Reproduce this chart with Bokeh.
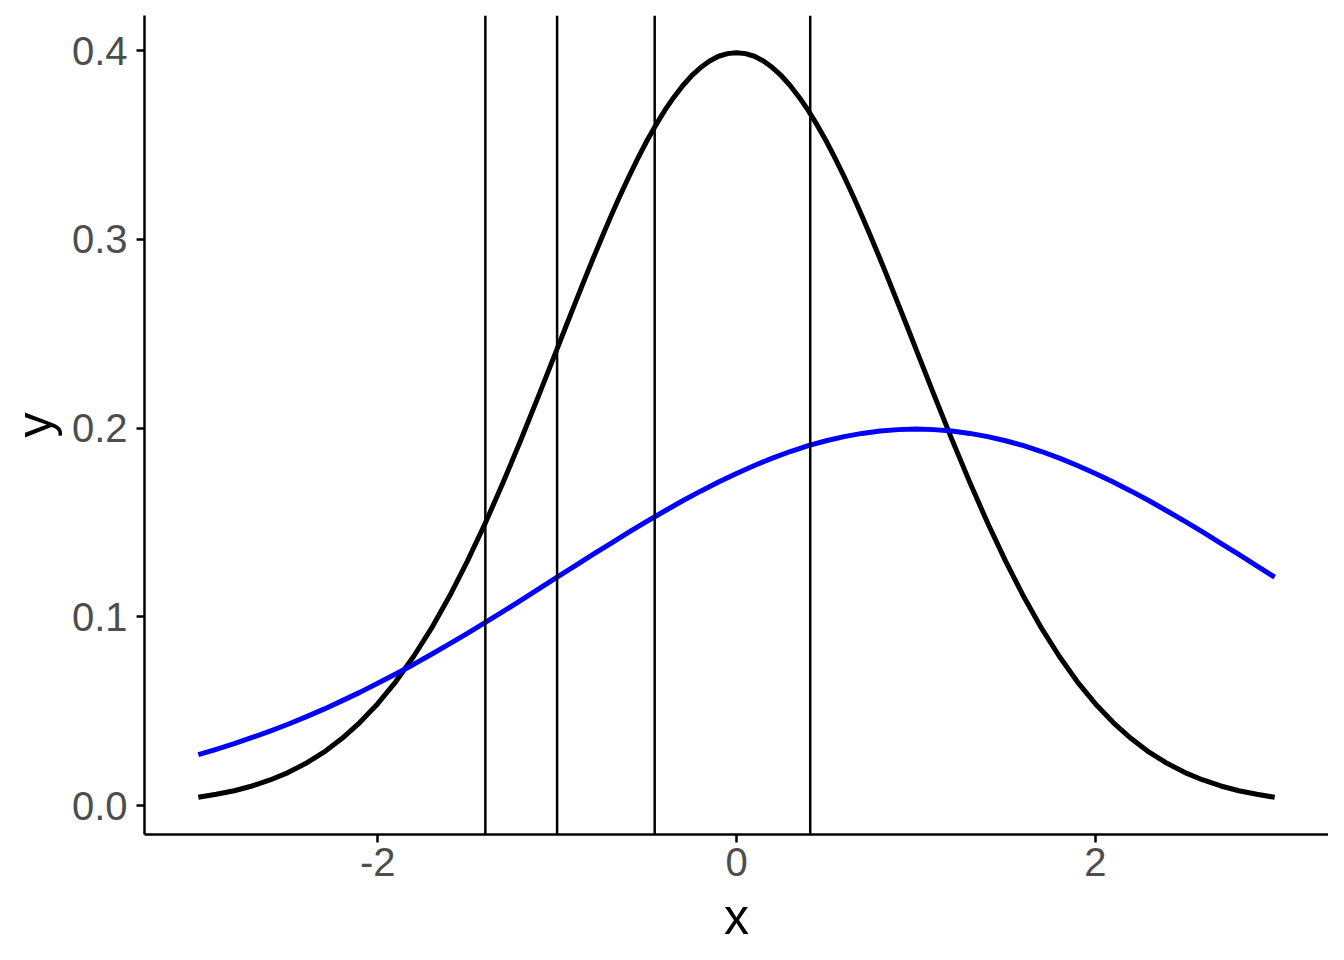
from bokeh.plotting import figure
from bokeh.models import Range1d, FixedTicker, NumeralTickFormatter, Span
from bokeh.embed import file_html
from bokeh.resources import INLINE

# black curve: x positions and values
black_x = [-3.0, -2.9, -2.8, -2.7, -2.6, -2.5, -2.4, -2.3, -2.2, -2.1,
           -2.0, -1.9, -1.8, -1.7, -1.6, -1.5, -1.4, -1.3, -1.2, -1.1,
           -1.0, -0.95, -0.9, -0.85, -0.8, -0.75, -0.7, -0.65, -0.6, -0.55,
           -0.5, -0.45, -0.4, -0.35, -0.3, -0.25, -0.2, -0.15, -0.1, -0.05,
           0.0, 0.05, 0.1, 0.15, 0.2, 0.25, 0.3, 0.35, 0.4, 0.45,
           0.5, 0.55, 0.6, 0.65, 0.7, 0.75, 0.8, 0.85, 0.9, 0.95,
           1.0, 1.1, 1.2, 1.3, 1.4, 1.5, 1.6, 1.7, 1.8, 1.9,
           2.0, 2.1, 2.2, 2.3, 2.4, 2.5, 2.6, 2.7, 2.8, 2.9, 3.0]
black_y = [0.0044, 0.0060, 0.0079, 0.0104, 0.0136, 0.0175, 0.0224, 0.0283, 0.0355, 0.0440,
           0.0540, 0.0656, 0.0790, 0.0940, 0.1109, 0.1295, 0.1497, 0.1714, 0.1942, 0.2179,
           0.2420, 0.2541, 0.2661, 0.2780, 0.2897, 0.3011, 0.3123, 0.3230, 0.3332, 0.3429,
           0.3521, 0.3605, 0.3683, 0.3752, 0.3814, 0.3867, 0.3910, 0.3945, 0.3970, 0.3984,
           0.3989, 0.3984, 0.3970, 0.3945, 0.3910, 0.3867, 0.3814, 0.3752, 0.3683, 0.3605,
           0.3521, 0.3429, 0.3332, 0.3230, 0.3123, 0.3011, 0.2897, 0.2780, 0.2661, 0.2541,
           0.2420, 0.2179, 0.1942, 0.1714, 0.1497, 0.1295, 0.1109, 0.0940, 0.0790, 0.0656,
           0.0540, 0.0440, 0.0355, 0.0283, 0.0224, 0.0175, 0.0136, 0.0104, 0.0079, 0.0060, 0.0044]

# blue curve: x positions and values
blue_x = [-3.0, -2.9, -2.8, -2.7, -2.6, -2.5, -2.4, -2.3, -2.2, -2.1,
          -2.0, -1.9, -1.8, -1.7, -1.6, -1.5, -1.4, -1.3, -1.2, -1.1,
          -1.0, -0.9, -0.8, -0.7, -0.6, -0.5, -0.4, -0.3, -0.2, -0.1,
          0.0, 0.1, 0.2, 0.3, 0.4, 0.5, 0.6, 0.7, 0.8, 0.9,
          1.0, 1.1, 1.2, 1.3, 1.4, 1.5, 1.6, 1.7, 1.8, 1.9,
          2.0, 2.1, 2.2, 2.3, 2.4, 2.5, 2.6, 2.7, 2.8, 2.9, 3.0]
blue_y = [0.0270, 0.0298, 0.0328, 0.0361, 0.0395, 0.0431, 0.0470, 0.0511, 0.0555, 0.0600,
          0.0648, 0.0697, 0.0748, 0.0802, 0.0857, 0.0913, 0.0971, 0.1029, 0.1089, 0.1150,
          0.1210, 0.1270, 0.1331, 0.1390, 0.1449, 0.1506, 0.1561, 0.1615, 0.1666, 0.1714,
          0.1760, 0.1802, 0.1841, 0.1876, 0.1907, 0.1933, 0.1955, 0.1972, 0.1985, 0.1992,
          0.1995, 0.1992, 0.1985, 0.1972, 0.1955, 0.1933, 0.1907, 0.1876, 0.1841, 0.1802,
          0.1760, 0.1714, 0.1666, 0.1615, 0.1561, 0.1506, 0.1449, 0.1390, 0.1331, 0.1270, 0.1210]

# vertical reference lines
vlines = [-1.40, -1.00, -0.456, 0.411]

x_ticks = [-2, 0, 2]
y_ticks = [0.0, 0.1, 0.2, 0.3, 0.4]

FONT = "Liberation Sans"

p = figure(frame_width=1184, frame_height=819,
           min_border_left=144, min_border_top=15, min_border_right=0, min_border_bottom=110,
           x_range=Range1d(-3.3, 3.3), y_range=Range1d(-0.0153, 0.4186),
           output_backend="svg", toolbar_location=None,
           x_axis_label="x", y_axis_label="y")

p.outline_line_color = None
p.xgrid.visible = False
p.ygrid.visible = False
p.background_fill_color = "white"
p.border_fill_color = "white"

for sx in vlines:
    p.add_layout(Span(location=sx, dimension="height", line_color="black", line_width=2.5))

p.line(black_x, black_y, line_color="black", line_width=5, line_join="round")
p.line(blue_x, blue_y, line_color="blue", line_width=5, line_join="round")

p.xaxis.ticker = FixedTicker(ticks=x_ticks)
p.yaxis.ticker = FixedTicker(ticks=y_ticks)
p.xaxis.formatter = NumeralTickFormatter(format="0")
p.yaxis.formatter = NumeralTickFormatter(format="0.0")

for ax in (p.xaxis, p.yaxis):
    ax.axis_line_color = "black"
    ax.axis_line_width = 2.5
    ax.major_tick_line_color = "black"
    ax.major_tick_line_width = 2.5
    ax.major_tick_out = 8
    ax.major_tick_in = 0
    ax.minor_tick_line_color = None
    ax.major_label_text_font = FONT
    ax.major_label_text_font_size = "40px"
    ax.major_label_text_color = "#4D4D4D"
    ax.axis_label_text_font = FONT
    ax.axis_label_text_font_size = "50px"
    ax.axis_label_text_color = "black"
    ax.axis_label_text_font_style = "normal"

p.yaxis.major_label_standoff = 9
p.xaxis.major_label_standoff = 5
p.yaxis.axis_label_standoff = 6
p.xaxis.axis_label_standoff = 10

open("out.html", "w").write(file_html(p, INLINE))
